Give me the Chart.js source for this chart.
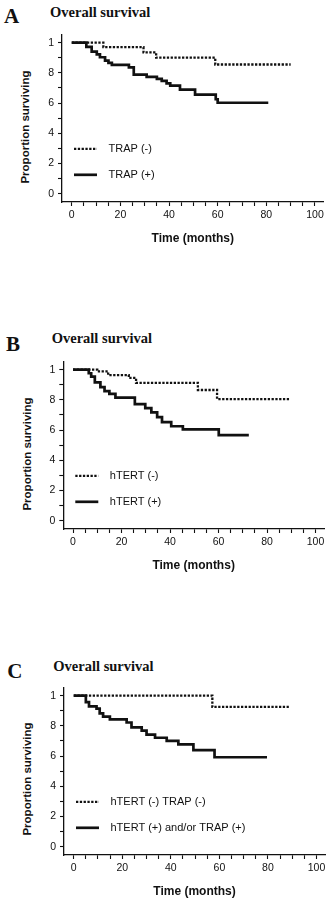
<!DOCTYPE html>
<html>
<head>
<meta charset="utf-8">
<script src="https://cdn.jsdelivr.net/npm/chart.js@4.4.1/dist/chart.umd.min.js"></script>
<style>
body { margin: 0; background: #fff; }
#page { position: relative; width: 332px; height: 900px; overflow: hidden; color: #111; }
.letter { position: absolute; font: bold 21px/21px "Liberation Serif", "Times New Roman", serif; }
.title { position: absolute; font: bold 14.5px/14.5px "Liberation Serif", "Times New Roman", serif; white-space: nowrap; }
.ytitle { position: absolute; font: bold 11.5px/12px "Liberation Sans", Arial, sans-serif; white-space: nowrap;
          transform: translate(-50%, -50%) rotate(-90deg); }
canvas { position: absolute; left: 0; }
</style>
</head>
<body>
<div id="page">
  <div class="letter" style="left:4px;top:6.4px">A</div>
  <div class="title" style="left:50px;top:4.6px">Overall survival</div>
  <div class="ytitle" style="left:25px;top:126.7px">Proportion surviving</div>
  <canvas id="chartA" width="332" height="226"></canvas>

  <div class="letter" style="left:6px;top:334.1px">B</div>
  <div class="title" style="left:51.7px;top:331.2px">Overall survival</div>
  <div class="ytitle" style="left:26.7px;top:454px">Proportion surviving</div>
  <canvas id="chartB" width="332" height="226"></canvas>

  <div class="letter" style="left:7.3px;top:660.7px">C</div>
  <div class="title" style="left:53.3px;top:658.6px">Overall survival</div>
  <div class="ytitle" style="left:27.2px;top:779px">Proportion surviving</div>
  <canvas id="chartC" width="332" height="226"></canvas>
</div>
<script>
// ticks
var xTickValues = [0, 5, 10, 15, 20, 25, 30, 35, 40, 45, 50, 55, 60, 65, 70, 75, 80, 85, 90, 95, 100];
var xTickLabels = ['0', '', '', '', '20', '', '', '', '40', '', '', '', '60', '', '', '', '80', '', '', '', '100'];
var yTickValues = [0, 0.1, 0.2, 0.3, 0.4, 0.5, 0.6, 0.7, 0.8, 0.9, 1];
var yTickLabels = ['0', '', '2', '', '4', '', '6', '', '8', '', '1'];
var xTitle = 'Time (months)';

// A - TRAP
var trapNegLabel = 'TRAP (-)';
var trapNegTime = [0, 13, 29.5, 34.7, 59, 90];
var trapNegSurv = [1, 0.97, 0.935, 0.90, 0.855, 0.855];
var trapPosLabel = 'TRAP (+)';
var trapPosTime = [0, 6, 8.2, 10.3, 11.6, 13.7, 15.1, 16.5, 23.5, 25.5, 30.8, 35, 37, 39, 40.5, 44.5, 50.7, 59.2, 60, 80.8];
var trapPosSurv = [1, 0.972, 0.94, 0.922, 0.903, 0.881, 0.866, 0.853, 0.836, 0.788, 0.773, 0.76, 0.747, 0.73, 0.715, 0.689, 0.656, 0.625, 0.602, 0.602];

// B - hTERT
var htertNegLabel = 'hTERT (-)';
var htertNegTime = [0, 10, 14.5, 23, 26, 51.5, 59.4, 89.7];
var htertNegSurv = [1, 0.988, 0.964, 0.945, 0.912, 0.865, 0.805, 0.805];
var htertPosLabel = 'hTERT (+)';
var htertPosTime = [0, 6.5, 7.5, 9, 11.3, 13, 15, 17.5, 25.5, 29.8, 32.3, 34.7, 36.7, 40.5, 45.3, 60.1, 72.5];
var htertPosSurv = [1, 0.976, 0.953, 0.915, 0.884, 0.857, 0.839, 0.814, 0.771, 0.745, 0.717, 0.685, 0.653, 0.625, 0.604, 0.567, 0.567];

// C - combined
var bothNegLabel = 'hTERT (-) TRAP (-)';
var bothNegTime = [0, 57.1, 88.6];
var bothNegSurv = [1, 0.925, 0.925];
var eitherPosLabel = 'hTERT (+) and/or TRAP (+)';
var eitherPosTime = [0, 5, 6.3, 9.4, 10.7, 12.1, 14.9, 21.8, 23.8, 28, 30, 33.5, 38.3, 43.1, 49.3, 58, 79.6];
var eitherPosSurv = [1, 0.957, 0.929, 0.914, 0.882, 0.861, 0.843, 0.822, 0.79, 0.768, 0.742, 0.721, 0.70, 0.677, 0.639, 0.592, 0.592];

var SANS = '"Liberation Sans", Arial, sans-serif';

function toPoints(times, surv) {
    return times.map(function (t, i) { return { x: t, y: surv[i] }; });
}

// legend drawn inside the plot, rows placed at y-values
var insideLegend = {
    id: 'insideLegend',
    afterDatasetsDraw: function (chart, args, opts) {
        var ctx = chart.ctx, area = chart.chartArea, ys = chart.scales.y;
        chart.data.datasets.forEach(function (ds, i) {
            var y = ys.getPixelForValue(opts.rows[i]);
            ctx.save();
            ctx.strokeStyle = ds.borderColor;
            ctx.lineWidth = ds.borderWidth;
            ctx.setLineDash(ds.borderDash || []);
            ctx.beginPath();
            ctx.moveTo(area.left + 12, y);
            ctx.lineTo(area.left + 35, y);
            ctx.stroke();
            ctx.setLineDash([]);
            ctx.fillStyle = '#111';
            ctx.font = '11px ' + SANS;
            ctx.textBaseline = 'middle';
            ctx.fillText(ds.label, area.left + 46.5, y);
            ctx.restore();
        });
    }
};

function makePanel(id, box, negLabel, negTime, negSurv, posLabel, posTime, posSurv) {
    var canvas = document.getElementById(id);
    canvas.style.top = (box.top - 6) + 'px';
    new Chart(canvas, {
        type: 'scatter',
        data: {
            datasets: [{
                label: negLabel,
                data: toPoints(negTime, negSurv),
                showLine: true,
                stepped: true,
                borderColor: '#111',
                borderWidth: 2.3,
                borderDash: [2.3, 1.5],
                pointRadius: 0
            }, {
                label: posLabel,
                data: toPoints(posTime, posSurv),
                showLine: true,
                stepped: true,
                borderColor: '#111',
                borderWidth: 2.7,
                pointRadius: 0
            }]
        },
        options: {
            responsive: false,
            animation: false,
            layout: { padding: { top: 6, right: 332 - box.right, bottom: 0, left: 0 } },
            plugins: {
                legend: { display: false },
                tooltip: { enabled: false },
                insideLegend: { rows: [0.297, 0.125] }
            },
            scales: {
                x: {
                    type: 'linear',
                    min: -4, max: 103.5,
                    afterBuildTicks: function (s) { s.ticks = xTickValues.map(function (v) { return { value: v }; }); },
                    afterFit: function (s) { s.height = 48; },
                    ticks: {
                        autoSkip: false, maxRotation: 0, padding: 3, color: '#111',
                        font: { family: SANS, size: 10.5 },
                        callback: function (v, i) { return xTickLabels[i]; }
                    },
                    grid: { drawOnChartArea: false, tickLength: 4, tickColor: '#111', tickWidth: 1.1 },
                    border: { color: '#111', width: 1.3 },
                    title: {
                        display: true, text: xTitle, color: '#111',
                        font: { family: SANS, size: 12, weight: 'bold' },
                        padding: { top: 0, bottom: 4.5 }
                    }
                },
                y: {
                    type: 'linear',
                    min: -0.055, max: 1.055,
                    afterBuildTicks: function (s) { s.ticks = yTickValues.map(function (v) { return { value: v }; }); },
                    afterFit: function (s) { s.width = box.left; },
                    ticks: {
                        autoSkip: false, padding: 4, color: '#111',
                        font: { family: SANS, size: 10.5 },
                        callback: function (v, i) { return yTickLabels[i]; }
                    },
                    grid: { drawOnChartArea: false, tickLength: 4, tickColor: '#111', tickWidth: 1.1 },
                    border: { color: '#111', width: 1.3 }
                }
            }
        },
        plugins: [insideLegend]
    });
}

makePanel('chartA', { top: 30, left: 62, right: 323.5 }, trapNegLabel, trapNegTime, trapNegSurv, trapPosLabel, trapPosTime, trapPosSurv);
makePanel('chartB', { top: 356.7, left: 63.3, right: 324 }, htertNegLabel, htertNegTime, htertNegSurv, htertPosLabel, htertPosTime, htertPosSurv);
makePanel('chartC', { top: 682.7, left: 64, right: 325 }, bothNegLabel, bothNegTime, bothNegSurv, eitherPosLabel, eitherPosTime, eitherPosSurv);
</script>
</body>
</html>
